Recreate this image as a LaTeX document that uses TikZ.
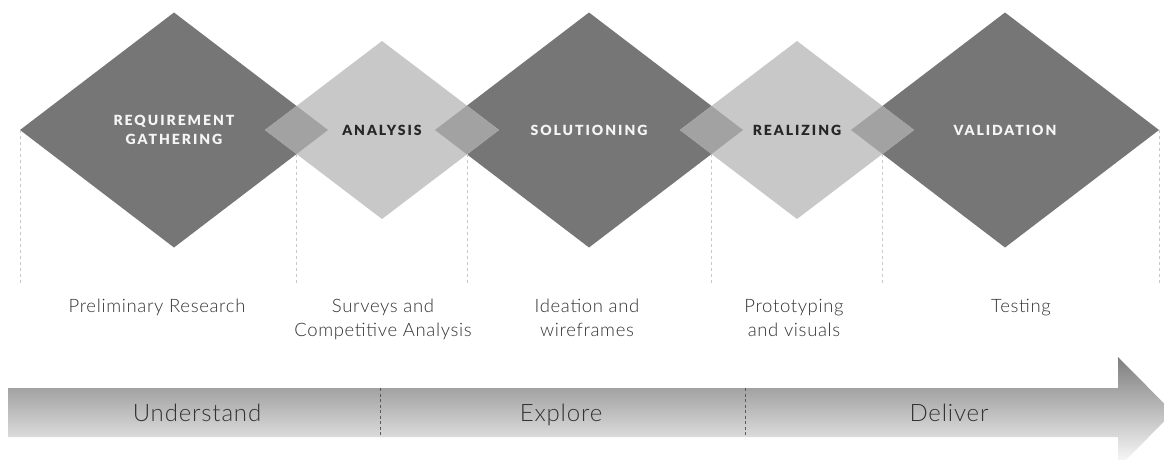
\documentclass[tikz,border=0pt]{standalone}
\usepackage{fontspec}
\setmainfont{Lato}
% heavy letter-spaced caps for the phase names, light faces for the captions
\IfFontExistsTF{Lato Black}
  {\newfontfamily\phasefont[LetterSpace=14]{Lato Black}\let\phaseweight\relax}
  {\newfontfamily\phasefont[LetterSpace=14]{Lato}\let\phaseweight\bfseries}
\IfFontExistsTF{Lato Light}
  {\newfontfamily\captionfont[LetterSpace=3.5]{Lato Light}}
  {\newfontfamily\captionfont[LetterSpace=3.5]{Lato}}
\usetikzlibrary{shapes.geometric,calc}

\definecolor{darkfill}{HTML}{767676}
\definecolor{lightfill}{HTML}{C8C8C8}
\definecolor{overlapfill}{HTML}{A2A2A2}
\definecolor{guidegray}{HTML}{C8C8C8}
\definecolor{labeltext}{HTML}{333333}
\definecolor{titledark}{HTML}{262626}
\definecolor{bandtop}{HTML}{7E7E7E}
\definecolor{bandbottom}{HTML}{FFFFFF}

\begin{document}
\begin{tikzpicture}[x=1pt,y=-1pt,
  phase/.style={diamond, inner sep=0pt, outer sep=0pt, draw=none,
    font=\phasefont\phaseweight\fontsize{14}{18.5}\selectfont, align=center},
  bigphase/.style={phase, fill=darkfill, minimum width=308pt, minimum height=235pt, text=white!96!black},
  smallphase/.style={phase, fill=lightfill, minimum width=234pt, minimum height=178pt, text=titledark},
  guideline/.style={draw=guidegray, line width=0.8pt, dash pattern=on 3pt off 3pt},
  stagelabel/.style={font=\captionfont\fontsize{18.5}{24}\selectfont, text=labeltext, align=center,
    anchor=north, inner sep=0pt},
  bandlabel/.style={font=\captionfont\fontsize{24}{26}\selectfont, text=labeltext, anchor=base, inner sep=0pt},
  bandsplit/.style={draw=black!65, line width=0.8pt, dash pattern=on 3pt off 2.5pt}]

\useasboundingbox (0,0) rectangle (1164,460);
\clip (0,0) rectangle (1164,460);

% phase diamonds: dark ones first, light ones on top
\node[bigphase] (req) at (174,130) {REQUIREMENT\\GATHERING};
\node[bigphase] (sol) at (589,130) {SOLUTIONING};
\node[bigphase] (val) at (1005,130) {VALIDATION};
\node[smallphase] (ana) at (382,130) {ANALYSIS};
\node[smallphase] (rea) at (797,130) {REALIZING};

% overlapping tips
\begin{scope}
  \clip (ana.north) -- (ana.east) -- (ana.south) -- (ana.west) -- cycle;
  \fill[overlapfill] (req.north) -- (req.east) -- (req.south) -- (req.west) -- cycle;
  \fill[overlapfill] (sol.north) -- (sol.east) -- (sol.south) -- (sol.west) -- cycle;
\end{scope}
\begin{scope}
  \clip (rea.north) -- (rea.east) -- (rea.south) -- (rea.west) -- cycle;
  \fill[overlapfill] (sol.north) -- (sol.east) -- (sol.south) -- (sol.west) -- cycle;
  \fill[overlapfill] (val.north) -- (val.east) -- (val.south) -- (val.west) -- cycle;
\end{scope}

% dashed guide lines below the diamonds
\coordinate (gbase) at (0,284);
\coordinate (k0) at (req.west);
\coordinate (k1) at (intersection of req.east--req.south and ana.west--ana.south);
\coordinate (k2) at (intersection of ana.east--ana.south and sol.west--sol.south);
\coordinate (k3) at (intersection of sol.east--sol.south and rea.west--rea.south);
\coordinate (k4) at (intersection of rea.east--rea.south and val.west--val.south);
\coordinate (k5) at (val.east);
\foreach \k in {k0,k1,k2,k3,k4,k5}
  \draw[guideline] (\k) -- (\k |- gbase);

% stage descriptions
\node[stagelabel] (l1) at (157,299) {Preliminary Research};
\node[stagelabel] (l2) at (383,299) {Surveys and\\Competitive Analysis};
\node[stagelabel] (l3) at (587,299) {Ideation and\\wireframes};
\node[stagelabel] (l4) at (794,299) {Prototyping\\and visuals};
\node[stagelabel] (l5) at (1021,299) {Testing};

% timeline arrow
\shade[top color=bandtop, bottom color=bandbottom]
  (8,388) -- (1118,388) -- (1118,357) -- (1173,412.5) -- (1118,468)
  -- (1118,437) -- (8,437) -- cycle;

\coordinate (s1t) at (380,388);
\coordinate (s1b) at (380,437);
\coordinate (s2t) at (745,388);
\coordinate (s2b) at (745,437);
\draw[bandsplit] (s1t) -- (s1b);
\draw[bandsplit] (s2t) -- (s2b);

\node[bandlabel] (und) at (197,421.5) {Understand};
\node[bandlabel] (exp) at (561,421.5) {Explore};
\node[bandlabel] (del) at (949,421.5) {Deliver};
\end{tikzpicture}
\end{document}
